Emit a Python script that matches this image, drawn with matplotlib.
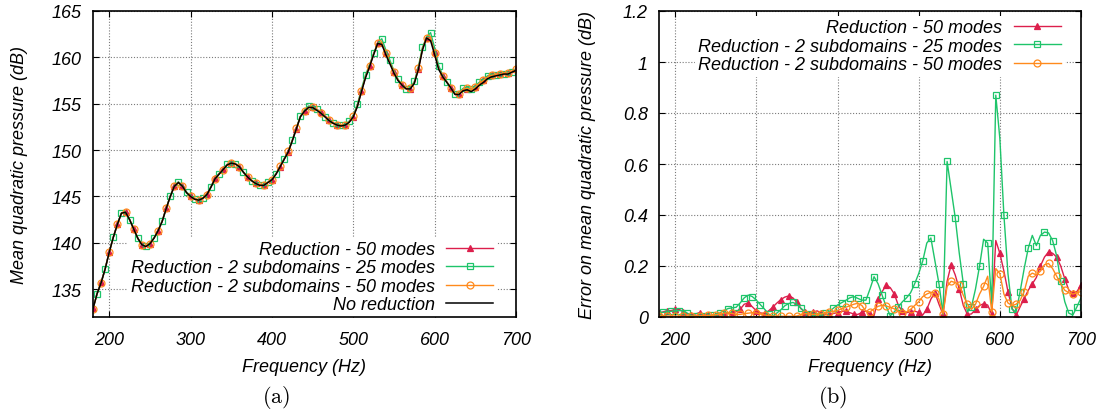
import numpy as np
import matplotlib
matplotlib.use("Agg")
import matplotlib.pyplot as plt
from matplotlib.patches import Rectangle

plt.rcParams['font.family'] = ['Liberation Sans', 'DejaVu Sans']
plt.rcParams['font.style'] = 'italic'
plt.rcParams['mathtext.fontset'] = 'cm'

# frequency sweep (Hz)
freq = np.arange(180, 701, 5)

# mean quadratic pressure without reduction (dB)
spl_ref = [
    132.9, 134.5, 135.7, 137.2, 139.0, 140.6, 142.0, 143.2, 143.3, 142.5,
    141.5, 140.5, 139.8, 139.6, 139.9, 140.5, 141.3, 142.3, 143.7, 145.0,
    146.1, 146.5, 146.1, 145.4, 145.0, 144.7, 144.6, 144.8, 145.2, 146.0,
    146.9, 147.4, 147.9, 148.4, 148.6, 148.5, 148.2, 147.6, 147.1, 146.7,
    146.4, 146.2, 146.2, 146.5, 146.8, 147.4, 148.2, 149.0, 149.8, 151.0,
    152.3, 153.6, 154.2, 154.6, 154.6, 154.3, 154.0, 153.6, 153.2, 152.9,
    152.7, 152.6, 152.7, 153.0, 153.6, 154.7, 156.3, 157.8, 159.0, 160.3,
    161.5, 161.4, 160.3, 159.3, 158.3, 157.5, 157.0, 156.6, 156.6, 157.2,
    158.7, 160.8, 162.1, 161.8, 160.3, 158.7, 157.9, 157.3, 156.7, 156.0,
    156.0, 156.4, 156.5, 156.3, 156.6, 157.0, 157.3, 157.7, 157.9, 158.0,
    158.1, 158.2, 158.2, 158.4, 158.6,
]

# error with respect to the full model (dB)
err_red50 = [
    .017, .020, .025, .025, .030, .030, .020, .012, .008, .012,
    .017, .012, .008, .005, .004, .008, .012, .015, .018, .022,
    .030, .050, .055, .040, .024, .016, .014, .024, .038, .054,
    .068, .078, .083, .075, .057, .032, .020, .017, .020, .024,
    .015, .010, .010, .014, .017, .022, .024, .017, .012, .010,
    .018, .024, .010, .005, .070, .100, .125, .115, .090, .045,
    .022, .017, .020, .023, .018, .008, .030, .070, .095, .050,
    .010, .140, .205, .165, .110, .045, .010, .012, .030, .045,
    .052, .047, .010, .300, .250, .180, .100, .035, .006, .040,
    .072, .105, .130, .155, .200, .235, .255, .250, .235, .200,
    .150, .105, .095, .100, .125,
]
err_sub25 = [
    .018, .018, .020, .022, .025, .025, .025, .015, .006, .004,
    .003, .003, .004, .007, .010, .016, .025, .033, .036, .038,
    .055, .075, .086, .080, .066, .048, .031, .012, .002, .015,
    .028, .044, .053, .057, .050, .034, .020, .012, .008, .005,
    .009, .015, .022, .035, .047, .056, .065, .075, .080, .073,
    .066, .066, .110, .158, .130, .085, .040, .005, .020, .040,
    .060, .075, .095, .130, .170, .220, .290, .310, .220, .130,
    .010, .610, .500, .390, .250, .130, .020, .040, .110, .200,
    .305, .290, .050, .870, .700, .400, .170, .030, .020, .100,
    .190, .270, .320, .280, .320, .333, .330, .300, .240, .140,
    .060, .015, .008, .040, .075,
]
err_sub50 = [
    .005, .004, .004, .004, .004, .003, .003, .003, .004, .004,
    .005, .005, .006, .007, .009, .012, .015, .016, .014, .010,
    .010, .013, .015, .017, .016, .012, .008, .005, .004, .003,
    .003, .003, .003, .003, .004, .010, .013, .012, .010, .010,
    .012, .016, .019, .022, .026, .032, .038, .044, .050, .054,
    .045, .022, .020, .032, .042, .046, .043, .038, .032, .020,
    .017, .020, .030, .045, .060, .080, .090, .097, .095, .070,
    .012, .120, .140, .135, .125, .085, .050, .030, .050, .090,
    .120, .160, .020, .190, .170, .090, .055, .045, .050, .065,
    .100, .160, .172, .165, .180, .205, .210, .190, .160, .130,
    .105, .095, .090, .095, .100,
]

labels = ["Reduction - 50 modes",
          "Reduction - 2 subdomains - 25 modes",
          "Reduction - 2 subdomains - 50 modes"]
colors = ["#dc1f4c", "#1ec46a", "#ff8a1c"]
markers = ["^", "s", "o"]
errors = [np.array(err_red50), np.array(err_sub25), np.array(err_sub50)]
spl_ref = np.array(spl_ref)

FS = 13

fig = plt.figure(figsize=(11.06, 4.14), dpi=100)
ax1 = fig.add_axes([93 / 1106, 96 / 414, 423 / 1106, 306 / 414])
ax2 = fig.add_axes([659 / 1106, 96 / 414, 422 / 1106, 306 / 414])


def style_axes(ax):
    ax.set_axisbelow(True)
    ax.grid(True, color="#7a7a7a", linestyle=(0, (1, 1.6)), linewidth=0.8)
    ax.tick_params(direction="in", top=True, right=True, length=4,
                   width=0.8, labelsize=FS, pad=8)
    ax.tick_params(axis="x", pad=10)
    for s in ax.spines.values():
        s.set_linewidth(1.2)
    ax.set_xlim(180, 700)
    ax.set_xticks([200, 300, 400, 500, 600, 700])
    ax.set_xlabel("Frequency (Hz)", fontsize=FS, labelpad=7)


def key(ax, **kw):
    # key without frame; a white box under the curves hides the grid only
    leg = ax.legend(markerfirst=False, frameon=False, fontsize=FS,
                    handlelength=2.6, handletextpad=0.65,
                    labelspacing=0.08, borderpad=0.2, borderaxespad=0.0,
                    **kw)
    fig.canvas.draw()
    bb = leg.get_window_extent().transformed(ax.transAxes.inverted())
    ax.add_patch(Rectangle((bb.x0, bb.y0), bb.width, bb.height,
                           transform=ax.transAxes, facecolor="white",
                           edgecolor="none", zorder=1))
    return leg


# (a) mean quadratic pressure
for lab, c, m, err, off in zip(labels, colors, markers, errors, [0, 1, 0]):
    ax1.plot(freq, spl_ref + err, color=c, lw=1.0, marker=m, ms=5,
             mfc=c if m == "^" else "none", mec=c, mew=0.9,
             markevery=(off, 2), label=lab, zorder=2)
ax1.plot(freq, spl_ref, color="black", lw=1.1, label="No reduction",
         zorder=2)
style_axes(ax1)
ax1.set_ylim(132, 165)
ax1.set_yticks([135, 140, 145, 150, 155, 160, 165])
ax1.set_ylabel("Mean quadratic pressure (dB)", fontsize=FS, labelpad=17)
key(ax1, loc="lower right", bbox_to_anchor=(0.955, 0.0))

# (b) error on the mean quadratic pressure
for lab, c, m, err, off in zip(labels, colors, markers, errors, [0, 1, 0]):
    ax2.plot(freq, err, color=c, lw=1.0, marker=m, ms=5,
             mfc=c if m == "^" else "none", mec=c, mew=0.9,
             markevery=(off, 2), label=lab, zorder=2)
style_axes(ax2)
ax2.set_ylim(0, 1.2)
ax2.set_yticks([0, 0.2, 0.4, 0.6, 0.8, 1.0, 1.2])
ax2.set_yticklabels(["0", "0.2", "0.4", "0.6", "0.8", "1", "1.2"])
ax2.set_ylabel("Error on mean quadratic pressure (dB)", fontsize=FS,
               labelpad=19)
key(ax2, loc="upper right", bbox_to_anchor=(0.961, 0.985))

fig.text(276 / 1106, 1 - 398 / 414, r"$\mathrm{(a)}$", fontsize=16,
         ha="center", va="center")
fig.text(833 / 1106, 1 - 398 / 414, r"$\mathrm{(b)}$", fontsize=16,
         ha="center", va="center")

fig.savefig("out.png", dpi=100)
